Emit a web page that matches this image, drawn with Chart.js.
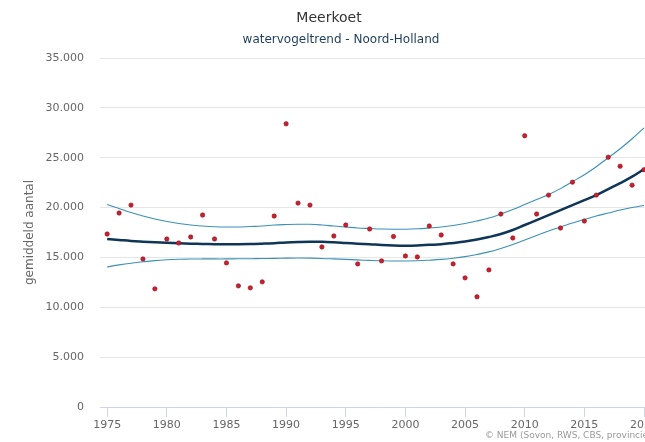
<!DOCTYPE html>
<html>
<head>
<meta charset="utf-8">
<script src="https://cdn.jsdelivr.net/npm/chart.js@4.4.1/dist/chart.umd.min.js"></script>
<style>
  html, body { margin: 0; padding: 0; background: #ffffff; overflow: hidden; }
  #wrap { width: 670px; height: 442px; position: relative; }
</style>
</head>
<body>
<div id="wrap"><canvas id="c" width="670" height="442"></canvas></div>
<script>
// ---- data ----
const years = [1975,1976,1977,1978,1979,1980,1981,1982,1983,1984,1985,1986,1987,1988,1989,1990,1991,1992,1993,1994,1995,1996,1997,1998,1999,2000,2001,2002,2003,2004,2005,2006,2007,2008,2009,2010,2011,2012,2013,2014,2015,2016,2017,2018,2019,2020];
const observed = [17350,19450,20250,14850,11850,16850,16450,17050,19250,16850,14450,12150,11950,12550,19150,28400,20450,20250,16050,17150,18250,14350,17850,14650,17100,15150,15050,18150,17250,14350,12950,11050,13750,19350,16950,27200,19350,21250,17950,22550,18650,21250,25050,24150,22250,23800];
const trend = [16850,16750,16650,16580,16520,16470,16420,16380,16350,16330,16320,16320,16340,16380,16430,16500,16550,16580,16570,16520,16450,16380,16320,16250,16200,16180,16200,16260,16320,16450,16600,16800,17050,17350,17750,18250,18750,19250,19750,20250,20750,21250,21850,22450,23100,23850];
const upper = [20300,19900,19500,19150,18850,18600,18400,18250,18150,18080,18050,18050,18100,18150,18250,18300,18330,18320,18250,18150,18050,17950,17900,17850,17830,17830,17870,17950,18050,18200,18400,18650,18950,19350,19800,20300,20800,21300,21900,22600,23300,24100,25000,25900,26900,28000];
const lower = [14050,14250,14420,14560,14680,14760,14810,14840,14850,14850,14850,14860,14870,14890,14910,14930,14940,14930,14900,14850,14800,14750,14700,14660,14640,14640,14660,14720,14800,14920,15080,15300,15560,15900,16300,16750,17200,17650,18050,18450,18800,19150,19450,19750,20000,20200];
const xTickValues = [1975,1980,1985,1990,1995,2000,2005,2010,2015,2020];
const yTickValues = [0,5000,10000,15000,20000,25000,30000,35000];

const titleText = 'Meerkoet';
const subtitleText = 'watervogeltrend - Noord-Holland';
const yTitleText = 'gemiddeld aantal';
const creditsText = '\u00A9 NEM (Sovon, RWS, CBS, provincies)';

const FONT = '"DejaVu Sans", Verdana, sans-serif';

function pts(arr) { return years.map((y, i) => ({ x: y, y: arr[i] })); }
function fmtThousands(v) { return String(v).replace(/\B(?=(\d{3})+(?!\d))/g, '.'); }

const textPlugin = {
  id: 'texts',
  afterDraw(chart) {
    const ctx = chart.ctx;
    const a = chart.chartArea;
    ctx.save();
    ctx.textAlign = 'center';
    ctx.textBaseline = 'middle';
    ctx.fillStyle = '#333333';
    ctx.font = '14px ' + FONT;
    ctx.fillText(titleText, 329, 18);
    ctx.fillStyle = '#1d3d5c';
    ctx.font = '12px ' + FONT;
    ctx.fillText(subtitleText, 341, 40);
    ctx.save();
    ctx.translate(30, (a.top + a.bottom) / 2);
    ctx.rotate(-Math.PI / 2);
    ctx.fillStyle = '#666666';
    ctx.font = '12px ' + FONT;
    ctx.fillText(yTitleText, 0, 0);
    ctx.restore();
    ctx.textAlign = 'left';
    ctx.fillStyle = '#999999';
    ctx.font = '9px ' + FONT;
    ctx.fillText(creditsText, 485, 436);
    ctx.restore();
  }
};

new Chart(document.getElementById('c'), {
  type: 'line',
  data: {
    datasets: [
      { label: 'trend', data: pts(trend), borderColor: '#0f3557', borderWidth: 2.5, pointRadius: 0, tension: 0.4, fill: false, order: 2 },
      { label: 'upper', data: pts(upper), borderColor: '#3b90b8', borderWidth: 1.1, pointRadius: 0, tension: 0.4, fill: false, order: 3 },
      { label: 'lower', data: pts(lower), borderColor: '#3b90b8', borderWidth: 1.1, pointRadius: 0, tension: 0.4, fill: false, order: 3 },
      { label: 'observed', data: pts(observed), showLine: false, pointRadius: 2.2, pointBackgroundColor: '#cc1f2e', pointBorderColor: '#8a1020', pointBorderWidth: 0.6, order: 1 }
    ]
  },
  options: {
    responsive: false,
    animation: false,
    devicePixelRatio: 1,
    layout: { padding: { top: 58, right: 10, left: 0, bottom: 0 } },
    plugins: { legend: { display: false }, tooltip: { enabled: false }, title: { display: false } },
    scales: {
      x: {
        type: 'linear',
        min: 1974.4,
        max: 2021.34,
        afterBuildTicks(scale) { scale.ticks = xTickValues.map(v => ({ value: v })); },
        afterFit(scale) { scale.height = 35; },
        grid: { drawOnChartArea: false, drawTicks: true, tickLength: 10, color: '#ccd6eb', lineWidth: 1 },
        border: { display: true, color: '#ccd6eb', width: 1 },
        ticks: { color: '#666666', font: { family: FONT, size: 11 }, padding: 2, maxRotation: 0, callback: v => String(v) }
      },
      y: {
        min: 0,
        max: 35000,
        afterBuildTicks(scale) { scale.ticks = yTickValues.map(v => ({ value: v })); },
        afterFit(scale) { scale.width = 100; },
        grid: { color: '#e6e6e6', drawTicks: false, lineWidth: 1 },
        border: { display: false },
        ticks: { color: '#666666', font: { family: FONT, size: 11 }, padding: 16, callback: v => fmtThousands(v) }
      }
    }
  },
  plugins: [textPlugin]
});
</script>
</body>
</html>
